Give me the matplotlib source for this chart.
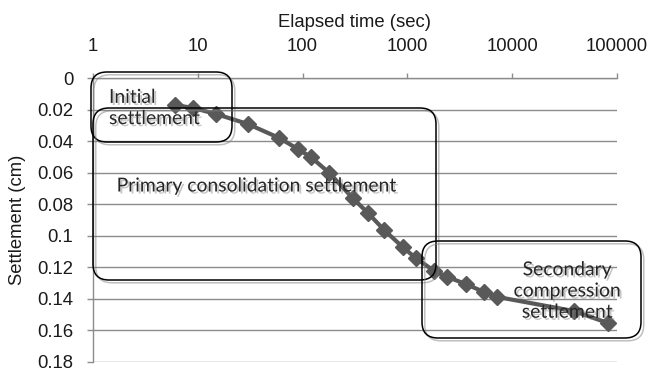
import matplotlib
matplotlib.use("Agg")
import matplotlib.pyplot as plt
import matplotlib.patheffects as pe
from matplotlib.patches import FancyBboxPatch
from matplotlib.ticker import FuncFormatter, NullLocator, FixedLocator
import numpy as np

# elapsed time (sec) and settlement (cm)
time_sec = [6, 9, 15, 30, 60, 90, 120, 180, 300, 420, 600, 900, 1200,
            1800, 2400, 3600, 5400, 7200, 39000, 82000]
settlement = [0.0171, 0.019, 0.0229, 0.0292, 0.0381, 0.0451, 0.0502,
              0.0603, 0.0762, 0.0857, 0.0965, 0.1073, 0.1143, 0.1225,
              0.1263, 0.1308, 0.1359, 0.139, 0.148, 0.1556]

x_ticks = [1, 10, 100, 1000, 10000, 100000]
y_ticks = [0, 0.02, 0.04, 0.06, 0.08, 0.1, 0.12, 0.14, 0.16, 0.18]

# annotation boxes: text, box (left, top, right, bottom) in pixels, text anchor
notes = [
    ("Initial\nsettlement", (91, 72, 232, 142), (109, 108), "left"),
    ("Primary consolidation settlement", (93, 108, 436, 280), (256, 186), "center"),
    ("Secondary\ncompression\nsettlement", (422, 241, 641, 338), (567, 291), "center"),
]

plt.rcParams["font.family"] = ["Liberation Sans", "DejaVu Sans"]

W, H, DPI = 648, 368, 100
fig = plt.figure(figsize=(W / DPI, H / DPI), dpi=DPI)
ax = fig.add_axes([93 / W, (H - 361.5) / H, (617 - 93) / W, (361.5 - 78) / H])

grey = "#8c8c8c"
txt = "#1a1a1a"

ax.plot(time_sec, settlement, color="#595959", lw=3, marker="D", ms=8,
        mec="#595959", mfc="#595959", zorder=3)

ax.set_xscale("log")
ax.set_xlim(1, 100000)
ax.set_ylim(0.18, 0)
ax.xaxis.tick_top()
ax.xaxis.set_label_position("top")
ax.xaxis.set_major_locator(FixedLocator(x_ticks))
ax.xaxis.set_minor_locator(NullLocator())
ax.xaxis.set_major_formatter(FuncFormatter(lambda v, p: f"{v:g}"))
ax.yaxis.set_major_locator(FixedLocator(y_ticks))
ax.yaxis.set_major_formatter(FuncFormatter(lambda v, p: f"{v:g}"))

ax.tick_params(axis="x", which="major", length=3.6, width=1, color=grey,
               pad=13, labelsize=13.3, labelcolor=txt)
ax.tick_params(axis="y", which="major", length=4.3, width=1, color=grey,
               pad=10, labelsize=13.3, labelcolor=txt)

for s in ["right", "bottom"]:
    ax.spines[s].set_visible(False)
for s in ["top", "left"]:
    ax.spines[s].set_color(grey)
    ax.spines[s].set_linewidth(1)

ax.yaxis.grid(True, color=grey, lw=1)
ax.set_axisbelow(True)

ax.set_xlabel("Elapsed time (sec)", fontsize=13.3, color=txt, labelpad=8)
ax.set_ylabel("Settlement (cm)", fontsize=13.3, color=txt, labelpad=8)

box_fx = [pe.SimpleLineShadow(offset=(2, -2), shadow_color="#808080", alpha=0.5),
          pe.Normal()]
text_fx = [pe.SimplePatchShadow(offset=(1.5, -1.5), shadow_rgbFace="#808080", alpha=0.45),
           pe.Normal()]

for label, (x0, y0, x1, y1), (tx, ty), ha in notes:
    r = 16
    box = FancyBboxPatch(((x0 + r) / DPI, (H - y1 + r) / DPI),
                         (x1 - x0 - 2 * r) / DPI, (y1 - y0 - 2 * r) / DPI,
                         boxstyle=f"round,pad={r / DPI},rounding_size={r / DPI}",
                         transform=fig.dpi_scale_trans, fill=False,
                         ec="black", lw=1.1, zorder=5)
    box.set_path_effects(box_fx)
    fig.add_artist(box)
    fig.text(tx / DPI, (H - ty) / DPI, label, transform=fig.dpi_scale_trans,
             ha=ha, va="center", multialignment=ha, family="Lato",
             fontsize=13.9, color="#262626", linespacing=1.3,
             path_effects=text_fx, zorder=6)

fig.savefig("out.png", dpi=DPI)
